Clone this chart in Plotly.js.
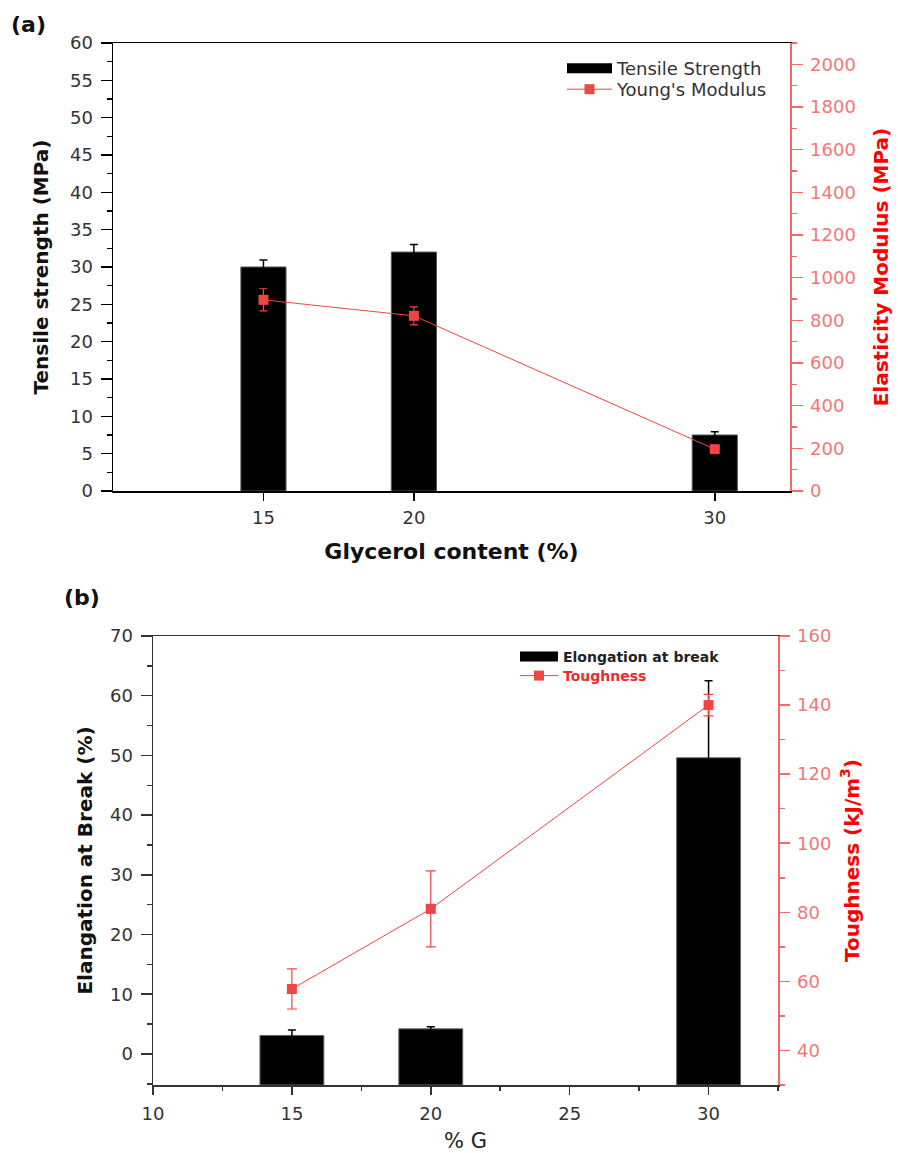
<!DOCTYPE html>
<html><head><meta charset="utf-8">
<script src="https://cdn.plot.ly/plotly-3.0.1.min.js"></script>
<style>html,body{margin:0;padding:0;background:#fff}</style>
</head><body><div id="chart" style="width:898px;height:1153px"></div>
<script>
// ---- data ----
const glycerol = [15, 20, 30];
const topXTicks = [15, 20, 30];
const tensileStrength = [30.0, 32.0, 7.5];
const tensileErr = [0.95, 1.0, 0.45];
const youngsModulus = [896, 821, 196];
const youngsErr = [52, 42, 12];
const elongation = [3.1, 4.2, 49.6];
const elongationErr = [0.9, 0.35, 12.9];
const toughness = [57.8, 81, 140];
const toughnessErr = [5.8, 11, 3.1];

// axis ranges
const topYRange = [0, 60];
const topY2Range = [0, 2100];
const botYRange = [-5.2, 70];
const botY2Range = [30, 160];
const xRange = [10, 32.5];

// ---- styling ----
const W = 898, H = 1153;
const px = v => v / W;
const py = v => 1 - v / H;
const RED = '#ef4545';
const RED_AX = '#f06a6a';
const TICKFONT = {family: 'DejaVu Sans', size: 18, color: '#333'};
const TITLEFONT = {family: 'DejaVu Sans', size: 20, color: '#111', weight: 'bold'};
const REDTITLE = {family: 'DejaVu Sans', size: 20, color: '#ff0000', weight: 'bold'};
const REDTICK = {family: 'DejaVu Sans', size: 18, color: '#f07878'};

// bars in panel (b) rise from the bottom of the axis, as in the reference
const elongBase = botYRange[0];

const traces = [
  {type: 'bar', x: glycerol, y: tensileStrength, xaxis: 'x', yaxis: 'y', width: 1.5,
   name: 'Tensile Strength', showlegend: false,
   marker: {color: '#000', line: {color: '#555', width: 1}},
   error_y: {type: 'data', array: tensileErr, color: '#000', thickness: 1.5, width: 4}},
  {type: 'scatter', mode: 'lines+markers', x: glycerol, y: youngsModulus, xaxis: 'x', yaxis: 'y2',
   name: "Young's Modulus", legend: 'legend3',
   line: {color: RED, width: 1}, marker: {symbol: 'square', size: 10, color: RED},
   error_y: {type: 'data', array: youngsErr, color: RED, thickness: 1.2, width: 4}},
  {type: 'bar', x: glycerol, y: elongation.map(v => v - elongBase), base: elongBase,
   xaxis: 'x2', yaxis: 'y3', width: 2.3,
   name: 'Elongation at break', showlegend: false,
   marker: {color: '#000', line: {color: '#666', width: 1}},
   error_y: {type: 'data', array: elongationErr, color: '#000', thickness: 1.5, width: 4}},
  {type: 'scatter', mode: 'lines+markers', x: glycerol, y: toughness, xaxis: 'x2', yaxis: 'y4',
   name: '<span style="color:#ee2b2b">Toughness</span>', legend: 'legend4',
   line: {color: RED, width: 1}, marker: {symbol: 'square', size: 10, color: RED},
   error_y: {type: 'data', array: toughnessErr, color: RED, thickness: 1.2, width: 5}},
  // legend keys for the bar series (wide black block, as in the reference)
  {type: 'scatter', mode: 'lines', x: [null], y: [null], xaxis: 'x', yaxis: 'y',
   name: 'Tensile Strength', legend: 'legend', line: {color: '#000', width: 18}, hoverinfo: 'skip'},
  {type: 'scatter', mode: 'lines', x: [null], y: [null], xaxis: 'x2', yaxis: 'y3',
   name: 'Elongation at break', legend: 'legend2', line: {color: '#000', width: 16}, hoverinfo: 'skip'}
];

const common = {showgrid: false, zeroline: false, showline: true, ticks: 'outside', tickwidth: 1.5};

const legendBase = {xanchor: 'left', yanchor: 'top', bgcolor: 'rgba(0,0,0,0)', tracegroupgap: 0};

const layout = {
  width: W, height: H,
  margin: {l: 0, r: 0, t: 0, b: 0},
  paper_bgcolor: '#fff', plot_bgcolor: 'rgba(0,0,0,0)',
  showlegend: true,
  xaxis: Object.assign({}, common, {
    domain: [px(113), px(790)], anchor: 'y', range: xRange,
    tickmode: 'array', tickvals: topXTicks, ticklen: 8, tickcolor: '#000',
    linecolor: '#000', linewidth: 1.5, mirror: true, tickfont: TICKFONT, ticklabelstandoff: 2,
    title: {text: 'Glycerol content (%)', font: Object.assign({}, TITLEFONT, {size: 22}), standoff: 16}
  }),
  yaxis: Object.assign({}, common, {
    domain: [py(491), py(43)], anchor: 'x', range: topYRange, dtick: 5, tick0: 0,
    ticklen: 11, tickcolor: '#000', linecolor: '#000', linewidth: 1.5, tickfont: TICKFONT,
    ticklabelstandoff: 4,
    minor: {dtick: 2.5, tick0: 0, ticks: 'outside', ticklen: 5, tickcolor: '#000', tickwidth: 1.5},
    title: {text: 'Tensile strength (MPa)', font: TITLEFONT, standoff: 16}
  }),
  yaxis2: Object.assign({}, common, {
    overlaying: 'y', side: 'right', anchor: 'x', range: topY2Range, dtick: 200, tick0: 0,
    ticklen: 11, tickcolor: RED_AX, linecolor: RED_AX, linewidth: 1.5, tickfont: REDTICK,
    ticklabelstandoff: 4,
    minor: {dtick: 100, tick0: 0, ticks: 'outside', ticklen: 5, tickcolor: RED_AX, tickwidth: 1.5},
    title: {text: 'Elasticity Modulus (MPa)', font: REDTITLE, standoff: 19}
  }),
  xaxis2: Object.assign({}, common, {
    domain: [px(153), px(778)], anchor: 'y3', range: xRange, dtick: 5, tick0: 10,
    ticklen: 8, tickcolor: '#333', linecolor: '#333', linewidth: 1.5, mirror: true, tickfont: TICKFONT,
    ticklabelstandoff: 4,
    minor: {dtick: 2.5, tick0: 10, ticks: 'outside', ticklen: 4, tickcolor: '#333', tickwidth: 1.5},
    title: {text: '% G', font: {family: 'DejaVu Sans', size: 21, color: '#222'}, standoff: 16}
  }),
  yaxis3: Object.assign({}, common, {
    domain: [py(1085), py(636)], anchor: 'x2', range: botYRange, dtick: 10, tick0: 0,
    ticklen: 11, tickcolor: '#333', linecolor: '#333', linewidth: 1.5, tickfont: TICKFONT,
    ticklabelstandoff: 4,
    minor: {dtick: 5, tick0: 0, ticks: 'outside', ticklen: 5, tickcolor: '#333', tickwidth: 1.5},
    title: {text: 'Elangation at Break (%)', font: TITLEFONT, standoff: 12}
  }),
  yaxis4: Object.assign({}, common, {
    overlaying: 'y3', side: 'right', anchor: 'x2', range: botY2Range, dtick: 20, tick0: 0,
    ticklen: 10, tickcolor: RED_AX, linecolor: RED_AX, linewidth: 1.5, tickfont: REDTICK,
    ticklabelstandoff: 4,
    minor: {dtick: 10, tick0: 0, ticks: 'outside', ticklen: 5, tickcolor: RED_AX, tickwidth: 1.5},
    title: {text: 'Toughness (kJ/m<sup>3</sup>)', font: REDTITLE, standoff: 14}
  }),
  legend: Object.assign({}, legendBase, {
    x: px(562), y: py(50), itemwidth: 45,
    font: {family: 'DejaVu Sans', size: 18, color: '#333'}
  }),
  legend3: Object.assign({}, legendBase, {
    x: px(562), y: py(71), itemwidth: 45,
    font: {family: 'DejaVu Sans', size: 18, color: '#333'}
  }),
  legend2: Object.assign({}, legendBase, {
    x: px(515), y: py(641), itemwidth: 38,
    font: {family: 'DejaVu Sans', size: 14, color: '#222', weight: 'bold'}
  }),
  legend4: Object.assign({}, legendBase, {
    x: px(515), y: py(660), itemwidth: 38,
    font: {family: 'DejaVu Sans', size: 14, color: '#222', weight: 'bold'}
  }),
  annotations: [
    {text: '(a)', x: px(9), y: py(24), xref: 'paper', yref: 'paper', xanchor: 'left', yanchor: 'middle',
     showarrow: false, font: {family: 'DejaVu Sans', size: 22, color: '#111', weight: 'bold'}},
    {text: '(b)', x: px(62), y: py(597), xref: 'paper', yref: 'paper', xanchor: 'left', yanchor: 'middle',
     showarrow: false, font: {family: 'DejaVu Sans', size: 22, color: '#111', weight: 'bold'}}
  ]
};

Plotly.newPlot('chart', traces, layout, {displayModeBar: false, staticPlot: true});
</script></body></html>
